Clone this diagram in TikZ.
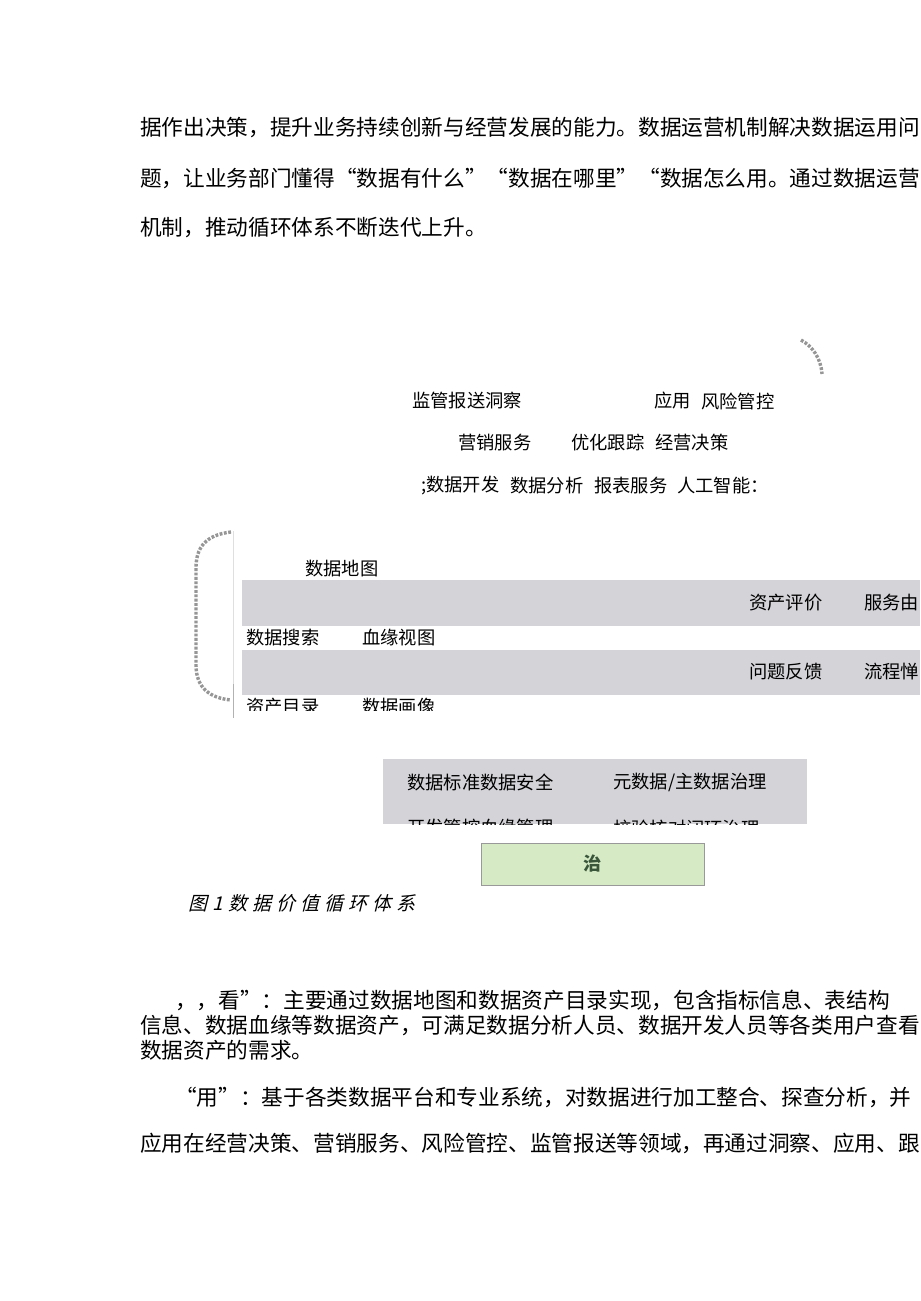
\documentclass[tikz,border=0pt]{standalone}
\usepackage{fontspec}
\newfontfamily\cjk{Noto Sans CJK SC}
\newfontfamily\cjkcap[FakeSlant=0.25,LetterSpace=27]{Noto Sans CJK SC}
\definecolor{bandgray}{RGB}{211,211,216}
\definecolor{boxgreen}{RGB}{214,234,198}
\definecolor{zhigreen}{RGB}{58,86,58}
\definecolor{arcgray}{RGB}{150,150,150}
\tikzset{
	body/.style={anchor=west,inner sep=0pt,font=\cjk\fontsize{15.4}{18}\selectfont},
	lbl/.style={anchor=west,inner sep=0pt,font=\cjk\fontsize{13}{15}\selectfont},
	dotarc/.style={arcgray,line width=2.4pt,dash pattern=on 2pt off 1.1pt,line cap=butt},
}

\begin{document}
\begin{tikzpicture}[x=0.025cm,y=-0.025cm]
	\useasboundingbox[fill=white] (0,0) rectangle (920,1301);
	
	%text above
	\node[body] (p1) at (140,128) {据作出决策，提升业务持续创新与经营发展的能力。数据运营机制解决数据运用问};
	\node[body] (p2) at (140,178) {题，让业务部门懂得“数据有什么”“数据在哪里”“数据怎么用。通过数据运营};
	\node[body] (p3) at (140,228) {机制，推动循环体系不断迭代上升。};
	
	%arcs
	\draw[dotarc] (801,340) .. controls (812,346) and (821,358) .. (822,374);
	\draw[dotarc] (231,532) .. controls (205,535) and (196,548) .. (196,568) -- (196,665)
		.. controls (196,688) and (210,698) .. (231,700);
	\draw[gray!25,thin] (233,531)--(233,684);
	\draw[gray!60,semithick] (233,684)--(233,718);
	
	%use
	\node[lbl] (jg) at (412,401) {监管报送洞察};
	\node[lbl] (yy) at (654,401) {应用};
	\node[lbl] (fx) at (701,401) {风险管控};
	\node[lbl] (yx) at (458,443) {营销服务};
	\node[lbl] (yh) at (571,443) {优化跟踪};
	\node[lbl] (jy) at (655,443) {经营决策};
	\node[lbl] (kf) at (421,486) {;数据开发};
	\node[lbl] (fxi) at (510,486) {数据分析};
	\node[lbl] (bb) at (594,486) {报表服务};
	\node[lbl] (rg) at (677,486) {人工智能：};
	
	%look
	\fill[bandgray] (242,580) rectangle (920,626);
	\fill[bandgray] (242,650) rectangle (920,695);
	\node[lbl] (dt) at (305,569) {数据地图};
	\node[lbl] (pj) at (749,603) {资产评价};
	\node[lbl] (fw) at (864,603) {服务由};
	\node[lbl] (ss) at (246,638) {数据搜索};
	\node[lbl] (xy) at (362,638) {血缘视图};
	\node[lbl] (wt) at (749,672) {问题反馈};
	\node[lbl] (lc) at (864,672) {流程惮};
	\begin{scope}
		\clip (242,695) rectangle (920,710);
		\node[lbl] (ml) at (246,707) {资产目录};
		\node[lbl] (hx) at (362,707) {数据画像};
	\end{scope}
	
	%govern
	\fill[bandgray] (383,759) rectangle (807,824);
	\node[lbl] (bz) at (407,782) {数据标准数据安全};
	\node[lbl] (ysj) at (613,782) {元数据/主数据治理};
	\begin{scope}
		\clip (383,759) rectangle (807,824);
		\node[lbl] (gk) at (407,828) {开发管控血缘管理};
		\node[lbl] (jd) at (613,828) {校验核对闭环治理};
	\end{scope}
	\draw[fill=boxgreen,draw=gray!80,thin] (481,843) rectangle (704,885);
	\node[font=\cjk\bfseries\fontsize{13}{15}\selectfont,text=zhigreen] (zhi) at (592.5,864) {治};
	
	%caption
	\node[anchor=west,inner sep=0pt,font=\cjkcap\fontsize{13.5}{16}\selectfont] (cap) at (188,903) {图1数据价值循环体系};
	
	%text below
	\node[body] (q1) at (175,1000) {，，看”：主要通过数据地图和数据资产目录实现，包含指标信息、表结构};
	\node[body] (q2) at (140,1025) {信息、数据血缘等数据资产，可满足数据分析人员、数据开发人员等各类用户查看};
	\node[body] (q3) at (140,1050) {数据资产的需求。};
	\node[body] (q4) at (175,1097) {“用”：基于各类数据平台和专业系统，对数据进行加工整合、探查分析，并};
	\node[body] (q5) at (140,1143) {应用在经营决策、营销服务、风险管控、监管报送等领域，再通过洞察、应用、跟};
\end{tikzpicture}
\end{document}
